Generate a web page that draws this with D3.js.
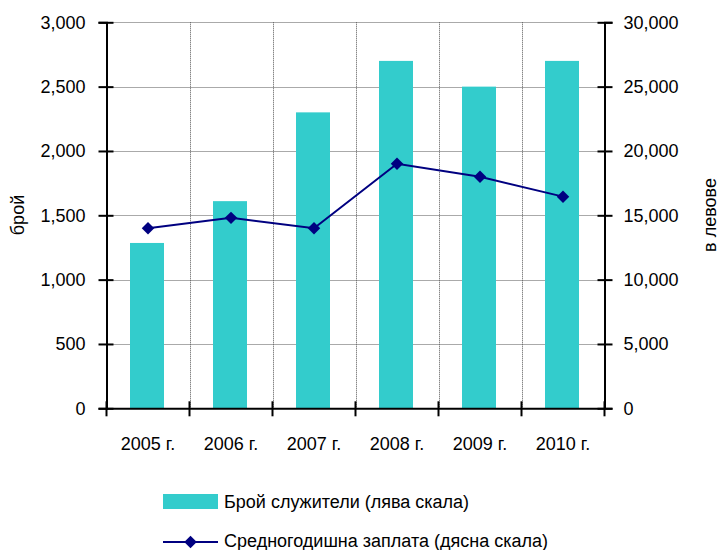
<!DOCTYPE html>
<html>
<head>
<meta charset="utf-8">
<script src="https://cdn.jsdelivr.net/npm/d3@7"></script>
<style>
  html, body { margin: 0; padding: 0; background: #fff; }
  svg { display: block; font-family: "Liberation Sans", Arial, sans-serif; }
</style>
</head>
<body>
<svg id="chart" width="722" height="550"></svg>
<script>
const categories = ["2005 г.", "2006 г.", "2007 г.", "2008 г.", "2009 г.", "2010 г."];
const employees = [1285, 1610, 2300, 2700, 2500, 2700];
const salary = [14000, 14800, 14000, 19000, 18000, 16450];
const leftTicks = [0, 500, 1000, 1500, 2000, 2500, 3000];
const rightTicks = [0, 5000, 10000, 15000, 20000, 25000, 30000];
const leftTitle = "брой";
const rightTitle = "в левове";
const legendBar = "Брой служители (лява скала)";
const legendLine = "Средногодишна заплата (дясна скала)";

const svg = d3.select("#chart");
const m = { left: 106.5, right: 604.5, top: 22.3, bottom: 408.3 };
const fmt = d3.format(",");
const FONT = "'Liberation Sans', Arial, sans-serif";

const x = d3.scaleBand().domain(categories).range([m.left, m.right]).paddingInner(0).paddingOuter(0);
const yL = d3.scaleLinear().domain([0, 3000]).range([m.bottom, m.top]);
const yR = d3.scaleLinear().domain([0, 30000]).range([m.bottom, m.top]);

const barColor = "#33CCCC";
const lineColor = "#000080";

// gridlines
const grid = svg.append("g").attr("stroke", "#555").attr("stroke-width", 1).attr("stroke-dasharray", "1,1");
leftTicks.filter(t => t > 0).forEach(t => {
  grid.append("line").attr("x1", m.left).attr("x2", m.right)
    .attr("y1", Math.round(yL(t)) + 0.5).attr("y2", Math.round(yL(t)) + 0.5);
});
categories.slice(1).forEach(c => {
  const xx = Math.round(x(c)) + 0.5;
  grid.append("line").attr("x1", xx).attr("x2", xx).attr("y1", m.top).attr("y2", m.bottom);
});

// bars
const bw = 34;
svg.append("g").selectAll("rect").data(employees).join("rect")
  .attr("x", (d, i) => x(categories[i]) + x.bandwidth() / 2 - bw / 2 - 1)
  .attr("y", d => yL(d))
  .attr("width", bw)
  .attr("height", d => yL(0) - yL(d))
  .attr("fill", barColor);

// line
const line = d3.line().x((d, i) => x(categories[i]) + x.bandwidth() / 2).y(d => yR(d));
svg.append("path").datum(salary).attr("d", line)
  .attr("fill", "none").attr("stroke", lineColor).attr("stroke-width", 2);
const marker = d3.symbol().type(d3.symbolSquare).size(78);
svg.append("g").selectAll("path").data(salary).join("path")
  .attr("d", marker)
  .attr("transform", (d, i) => `translate(${x(categories[i]) + x.bandwidth() / 2},${yR(d)}) rotate(45)`)
  .attr("fill", lineColor);

// axes
const axisL = svg.append("g").attr("transform", `translate(${m.left},0)`)
  .call(d3.axisLeft(yL).tickValues(leftTicks).tickFormat(fmt).tickSize(8).tickPadding(13));
const axisR = svg.append("g").attr("transform", `translate(${m.right},0)`)
  .call(d3.axisRight(yR).tickValues(rightTicks).tickFormat(fmt).tickSize(8).tickPadding(11));
[axisL, axisR].forEach(a => {
  a.attr("font-family", FONT);
  a.select(".domain").attr("stroke", "#000").attr("stroke-width", 2);
  a.selectAll(".tick line").attr("stroke", "#000").attr("stroke-width", 2);
  a.selectAll(".tick text").attr("font-size", 18).attr("fill", "#000");
});
// cross ticks on y-axes
axisL.selectAll(".tick line").attr("x1", 7);
axisR.selectAll(".tick line").attr("x1", -7);

const xb = d3.scaleLinear().domain([0, categories.length]).range([m.left, m.right]);
const axisB = svg.append("g").attr("transform", `translate(0,${m.bottom})`)
  .call(d3.axisBottom(x).tickSize(0).tickPadding(29));
axisB.attr("font-family", FONT);
axisB.select(".domain").attr("stroke", "#000").attr("stroke-width", 2);
axisB.selectAll(".tick text").attr("font-size", 18).attr("fill", "#000");
const bticks = svg.append("g");
d3.range(categories.length + 1).forEach(i => {
  const xx = xb(i);
  bticks.append("line").attr("x1", xx).attr("x2", xx)
    .attr("y1", m.bottom - 7).attr("y2", m.bottom + 8)
    .attr("stroke", "#000").attr("stroke-width", 2);
});

// axis titles
svg.append("text").attr("transform", `translate(24,215) rotate(-90)`)
  .attr("text-anchor", "middle").attr("font-size", 18).text(leftTitle);
svg.append("text").attr("transform", `translate(716,215) rotate(-90)`)
  .attr("text-anchor", "middle").attr("font-size", 18).text(rightTitle);

// legend
const lg = svg.append("g");
lg.append("rect").attr("x", 163).attr("y", 494).attr("width", 55).attr("height", 15).attr("fill", barColor);
lg.append("text").attr("x", 224).attr("y", 501.5).attr("dy", "0.35em").attr("font-size", 18).text(legendBar);
lg.append("line").attr("x1", 163).attr("x2", 218).attr("y1", 542).attr("y2", 542)
  .attr("stroke", lineColor).attr("stroke-width", 2);
lg.append("path").attr("d", marker)
  .attr("transform", "translate(190.5,542) rotate(45)").attr("fill", lineColor);
lg.append("text").attr("x", 224).attr("y", 541).attr("dy", "0.35em").attr("font-size", 18).text(legendLine);
</script>
</body>
</html>
